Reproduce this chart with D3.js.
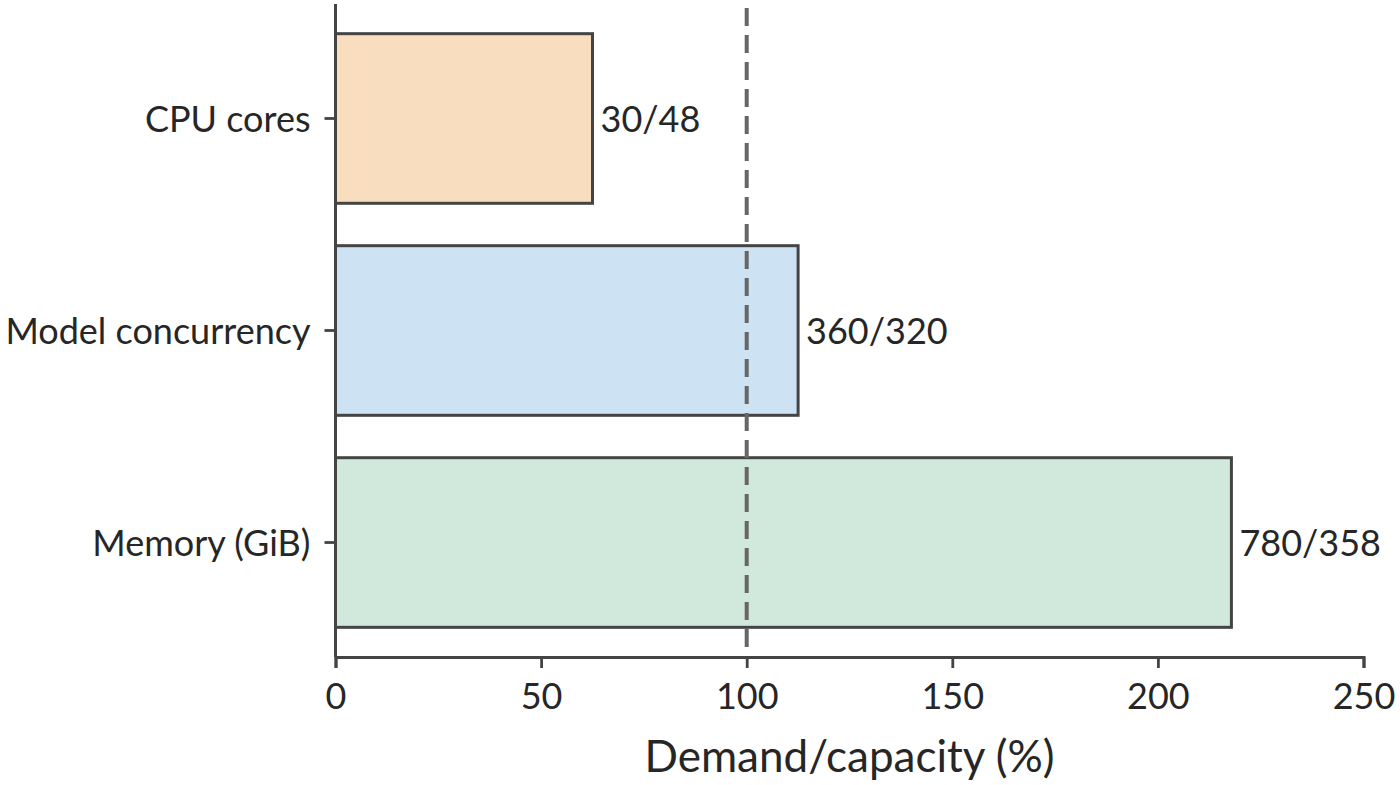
<!DOCTYPE html>
<html>
<head>
<meta charset="utf-8">
<script src="https://cdn.jsdelivr.net/npm/d3@7"></script>
<style>
  html, body { margin: 0; padding: 0; background: #fff; }
  svg { display: block; }
</style>
</head>
<body>
<svg id="chart" width="1400" height="785"></svg>
<script>
const categories = ["CPU cores", "Model concurrency", "Memory (GiB)"];
const demand = [30, 360, 780];
const capacity = [48, 320, 358];
const barLabels = ["30/48", "360/320", "780/358"];
const xTicks = [0, 50, 100, 150, 200, 250];
const colors = ["#f9ddbf", "#cde3f3", "#d1e9dc"];
const refValue = 100;

(function () {
const data = categories.map((c, i) => ({
  cat: c, pct: demand[i] / capacity[i] * 100, label: barLabels[i], color: colors[i]
}));

const svg = d3.select("#chart");
const font = "Lato, 'Source Sans Pro', 'Noto Sans', sans-serif";
const mLeft = 335.5, mRight = 1363.5, mTop = 4, mBottom = 657;

const x = d3.scaleLinear().domain([0, 250]).range([mLeft, mRight]);
const y = d3.scaleBand().domain(categories).range([mTop, mBottom])
  .paddingInner(0.2).paddingOuter(0.14);

// bars
svg.append("g").selectAll("rect").data(data).join("rect")
  .attr("x", x(0))
  .attr("y", d => y(d.cat))
  .attr("width", d => x(d.pct) - x(0))
  .attr("height", y.bandwidth())
  .attr("fill", d => d.color)
  .attr("stroke", "#444")
  .attr("stroke-width", 3);

// reference line
svg.append("line")
  .attr("x1", x(refValue)).attr("x2", x(refValue))
  .attr("y1", 8).attr("y2", mBottom)
  .attr("stroke", "#666")
  .attr("stroke-width", 4)
  .attr("stroke-dasharray", "18,9");

// bar labels
svg.append("g").selectAll("text").data(data).join("text")
  .attr("x", d => x(d.pct) + 8)
  .attr("y", d => y(d.cat) + y.bandwidth() / 2)
  .attr("dy", "0.38em")
  .attr("font-family", font)
  .attr("font-size", 36)
  .attr("fill", "#262626")
  .text(d => d.label);

// x axis
const xAxis = svg.append("g")
  .attr("transform", `translate(0,${mBottom})`)
  .call(d3.axisBottom(x).tickValues(xTicks).tickSize(11).tickPadding(15).tickFormat(d3.format("d")));
xAxis.select(".domain").attr("stroke", "#444").attr("stroke-width", 3);
xAxis.selectAll(".tick line").attr("stroke", "#444").attr("stroke-width", 2.8);
xAxis.selectAll(".tick text").attr("font-family", font).attr("font-size", 36).attr("fill", "#262626");

// y axis
const yAxis = svg.append("g")
  .attr("transform", `translate(${mLeft},0)`)
  .call(d3.axisLeft(y).tickSize(11).tickPadding(14));
yAxis.select(".domain").attr("stroke", "#444").attr("stroke-width", 3)
  .attr("d", `M0,${mTop}V${mBottom}`);
yAxis.selectAll(".tick line").attr("stroke", "#444").attr("stroke-width", 2.8);
yAxis.selectAll(".tick text").attr("font-family", font).attr("font-size", 36).attr("fill", "#262626")
  .attr("dy", "0.38em");

// x axis title
svg.append("text")
  .attr("x", (mLeft + mRight) / 2)
  .attr("y", 772)
  .attr("text-anchor", "middle")
  .attr("font-family", font)
  .attr("font-size", 44)
  .attr("fill", "#262626")
  .text("Demand/capacity (%)");
})();
</script>
</body>
</html>
